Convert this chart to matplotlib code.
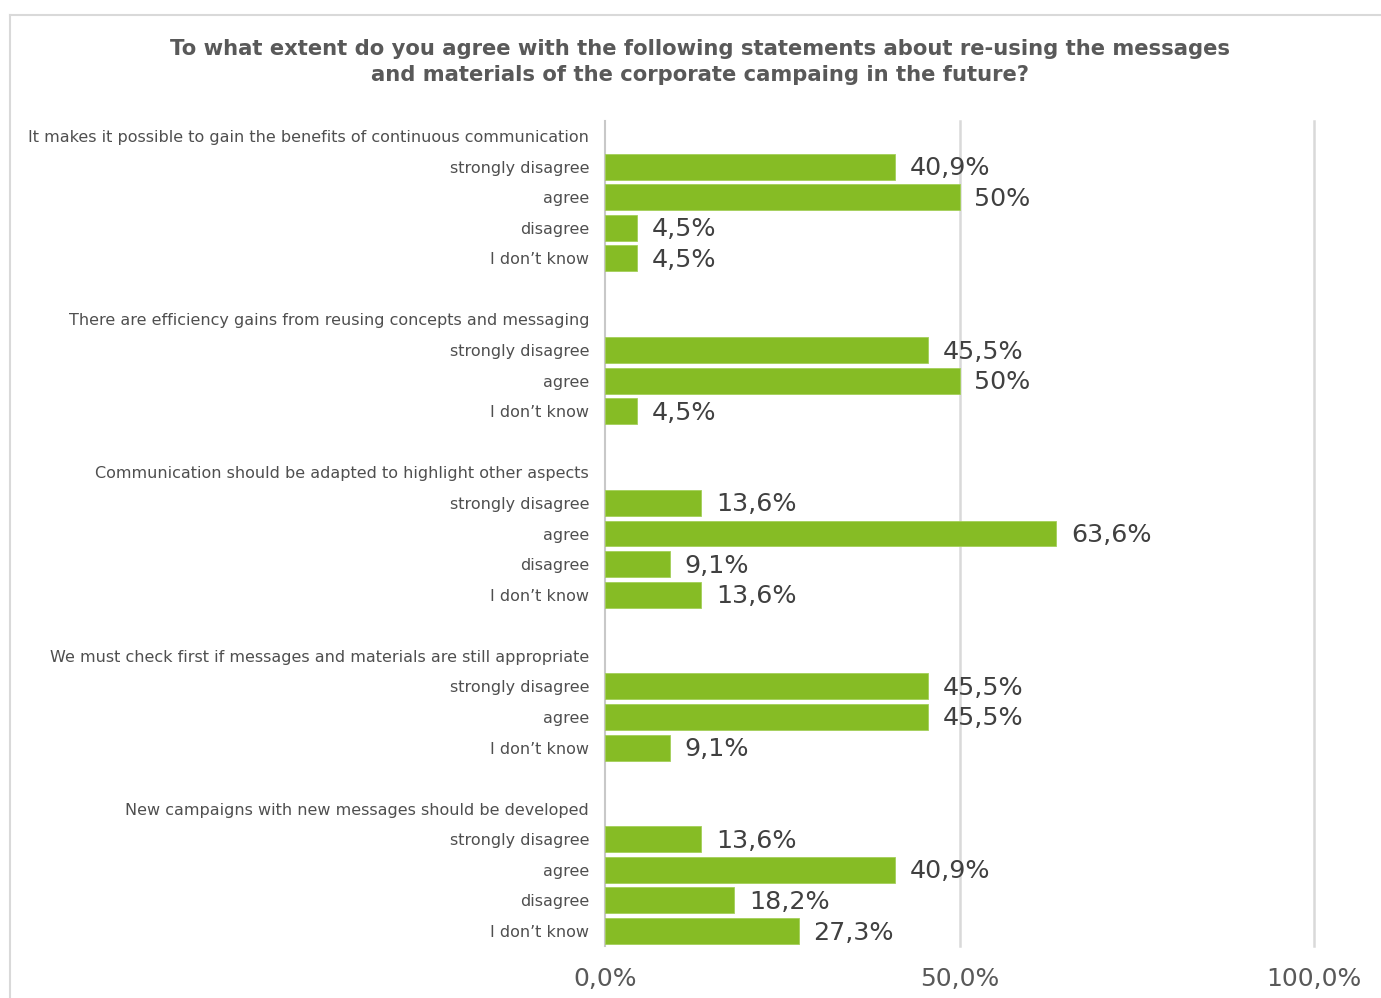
import matplotlib
matplotlib.use('Agg')
import matplotlib.pyplot as plt
from matplotlib.lines import Line2D

plt.rcParams['font.family'] = ['DejaVu Sans']

# statements (group headers)
statements = [
    'It makes it possible to gain the benefits of continuous communication',
    'There are efficiency gains from reusing concepts and messaging',
    'Communication should be adapted to highlight other aspects',
    'We must check first if messages and materials are still appropriate',
    'New campaigns with new messages should be developed',
]
# answers per statement
answers = [
    ['strongly disagree', 'agree', 'disagree', 'I don\u2019t know'],
    ['strongly disagree', 'agree', 'I don\u2019t know'],
    ['strongly disagree', 'agree', 'disagree', 'I don\u2019t know'],
    ['strongly disagree', 'agree', 'I don\u2019t know'],
    ['strongly disagree', 'agree', 'disagree', 'I don\u2019t know'],
]
# percentages
values = [
    [40.9, 50, 4.5, 4.5],
    [45.5, 50, 4.5],
    [13.6, 63.6, 9.1, 13.6],
    [45.5, 45.5, 9.1],
    [13.6, 40.9, 18.2, 27.3],
]

green = '#86bc25'
grey = '#4f4f4f'
dark = '#404040'

fig = plt.figure(figsize=(13.81, 9.98), dpi=100)
ax = fig.add_axes([605 / 1381, 1 - 946.3 / 998, (1314 - 605) / 1381, (946.3 - 120.7) / 998])

# build rows
labels, vals = [], []
for i, st in enumerate(statements):
    if i > 0:
        labels.append(''); vals.append(None)
    labels.append(st); vals.append(None)
    for a, v in zip(answers[i], values[i]):
        labels.append(a); vals.append(v)

pos = list(range(len(labels)))
for p, v in zip(pos, vals):
    if v is None:
        continue
    ax.barh(p, v, height=0.85, color=green, edgecolor='#a4cf5a', linewidth=0.6, zorder=3)
    txt = ('%.1f' % v).replace('.', ',') if v != int(v) else '%d' % v
    ax.text(v + 2.1, p + 0.05, txt + '%', va='center', ha='left', fontsize=18.3, color=dark, zorder=4)

ax.set_xlim(0, 100)
ax.set_ylim(len(labels) - 0.5, -0.5)
ax.set_yticks(pos)
ax.set_yticklabels(labels, fontsize=11.5, color=grey)
ax.tick_params(axis='y', length=0, pad=11.5)
ax.set_xticks([0, 50, 100])
ax.set_xticklabels(['0,0%', '50,0%', '100,0%'], fontsize=18, color='#595959')
ax.tick_params(axis='x', length=0, pad=15)
for s in ['top', 'right', 'bottom']:
    ax.spines[s].set_visible(False)
ax.spines['left'].set_color('#c8c8c8')
ax.spines['left'].set_linewidth(1.5)
for gx in [50, 100]:
    ax.axvline(gx, color='#d9d9d9', linewidth=1.8, zorder=0, clip_on=False)

fig.text(700 / 1381, 1 - 62 / 998,
         'To what extent do you agree with the following statements about re-using the messages\n'
         'and materials of the corporate campaing in the future?',
         ha='center', va='center', fontsize=15.2, fontweight='bold', color='#595959', linespacing=1.4)

# outer frame
fig.add_artist(Line2D([10 / 1381, 1], [1 - 15 / 998] * 2, color='#d9d9d9', linewidth=1.5))
fig.add_artist(Line2D([10 / 1381] * 2, [0, 1 - 15 / 998], color='#d9d9d9', linewidth=1.5))

plt.savefig('out.png', dpi=100)
plt.close()
